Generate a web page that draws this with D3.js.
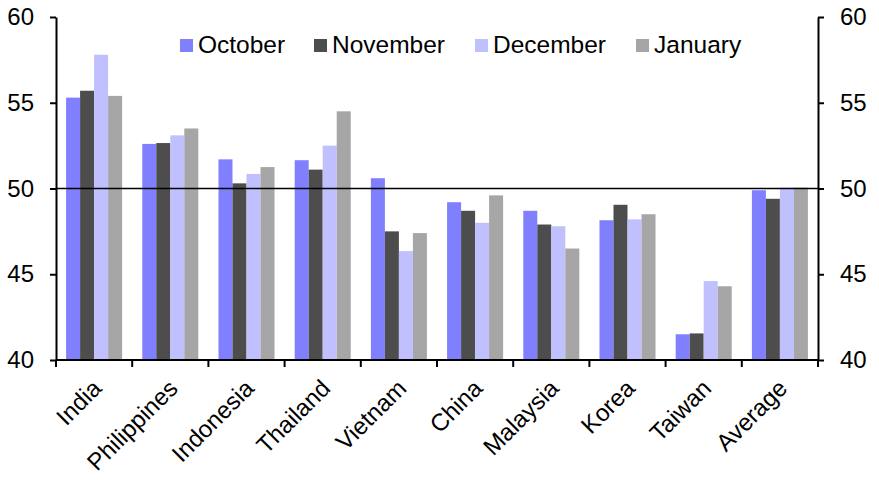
<!DOCTYPE html>
<html>
<head>
<meta charset="utf-8">
<script src="https://cdn.jsdelivr.net/npm/d3@7"></script>
<style>
  body { margin: 0; background: #fff; }
  text { font-family: "Liberation Sans", Arial, sans-serif; fill: #000; }
</style>
</head>
<body>
<svg id="chart" width="879" height="480"></svg>
<script>
// data
var categories = ["India", "Philippines", "Indonesia", "Thailand", "Vietnam", "China", "Malaysia", "Korea", "Taiwan", "Average"];
var seriesNames = ["October", "November", "December", "January"];
var october  = [55.3, 52.6, 51.7, 51.65, 50.6, 49.2, 48.7, 48.15, 41.5, 49.9];
var november = [55.7, 52.65, 50.3, 51.1, 47.5, 48.7, 47.9, 49.05, 41.55, 49.4];
var december = [57.8, 53.1, 50.85, 52.5, 46.35, 48.0, 47.8, 48.2, 44.6, 50.05];
var january  = [55.4, 53.5, 51.25, 54.5, 47.4, 49.6, 46.5, 48.5, 44.3, 50.05];
var yTicks = [40, 45, 50, 55, 60];
var colors = ["#8080ff", "#4d4d4d", "#c0c0ff", "#a6a6a6"];

var values = [october, november, december, january];
var rows = categories.map(function (c, i) {
    return { name: c, vals: values.map(function (s) { return s[i]; }) };
});

var svg = d3.select("#chart");
var plotLeft = 56, plotRight = 818, plotTop = 17, plotBottom = 360;

var x = d3.scaleBand().domain(categories).range([plotLeft, plotRight]).paddingInner(0).paddingOuter(0);
var x2 = d3.scaleBand().domain(seriesNames).range([0, x.bandwidth()]).paddingOuter(0.72).paddingInner(0);
var y = d3.scaleLinear().domain([40, 60]).range([plotBottom, plotTop]);

// bars
var groups = svg.append("g").selectAll("g")
    .data(rows).enter().append("g")
    .attr("transform", function (d) { return "translate(" + x(d.name) + ",0)"; });
groups.selectAll("rect")
    .data(function (d) { return d.vals; })
    .enter().append("rect")
    .attr("x", function (d, i) { return x2(seriesNames[i]); })
    .attr("width", x2.bandwidth())
    .attr("y", function (d) { return y(d); })
    .attr("height", function (d) { return plotBottom - y(d); })
    .style("fill", function (d, i) { return colors[i]; });

// 50 line
svg.append("line")
    .attr("x1", plotLeft).attr("x2", plotRight)
    .attr("y1", y(50)).attr("y2", y(50))
    .style("stroke", "#000").style("stroke-width", 1.5);

// axes
var yl = svg.append("g").attr("transform", "translate(" + plotLeft + ",0)")
    .call(d3.axisLeft(y).tickValues(yTicks).tickSize(6).tickPadding(16).tickSizeOuter(0));
var yr = svg.append("g").attr("transform", "translate(" + plotRight + ",0)")
    .call(d3.axisRight(y).tickValues(yTicks).tickSize(6).tickPadding(16).tickSizeOuter(0));
[yl, yr].forEach(function (a) {
    a.select(".domain").style("stroke-width", 2);
    a.selectAll(".tick line").style("stroke-width", 2);
    a.selectAll("text").style("font-size", "24px")
        .style("font-family", "'Liberation Sans', Arial, sans-serif");
});

// bottom axis with ticks at category boundaries
var xb = svg.append("g").attr("transform", "translate(0," + plotBottom + ")");
xb.append("line").attr("x1", plotLeft).attr("x2", plotRight).style("stroke", "#000").style("stroke-width", 2);
var bounds = categories.map(function (c) { return x(c); }).concat([plotRight]);
xb.selectAll(".bt").data(bounds).enter().append("line")
    .attr("x1", function (d) { return d; }).attr("x2", function (d) { return d; })
    .attr("y1", 0).attr("y2", 7)
    .style("stroke", "#000").style("stroke-width", 2);
xb.selectAll(".lbl").data(categories).enter().append("text")
    .attr("transform", function (d) {
        return "translate(" + (x(d) + x.bandwidth() / 2 - 3) + ",18) rotate(-45)";
    })
    .attr("text-anchor", "end")
    .attr("dy", "0.7em")
    .style("font-size", "24px")
    .text(function (d) { return d; });

// legend
var legendX = [180, 314, 475, 636];
var legend = svg.append("g").selectAll("g")
    .data(seriesNames).enter().append("g")
    .attr("transform", function (d, i) { return "translate(" + legendX[i] + ",39)"; });
legend.append("rect").attr("width", 13).attr("height", 13)
    .style("fill", function (d, i) { return colors[i]; });
legend.append("text").attr("x", 18).attr("y", 14)
    .style("font-size", "24.5px")
    .text(function (d) { return d; });
</script>
</body>
</html>
